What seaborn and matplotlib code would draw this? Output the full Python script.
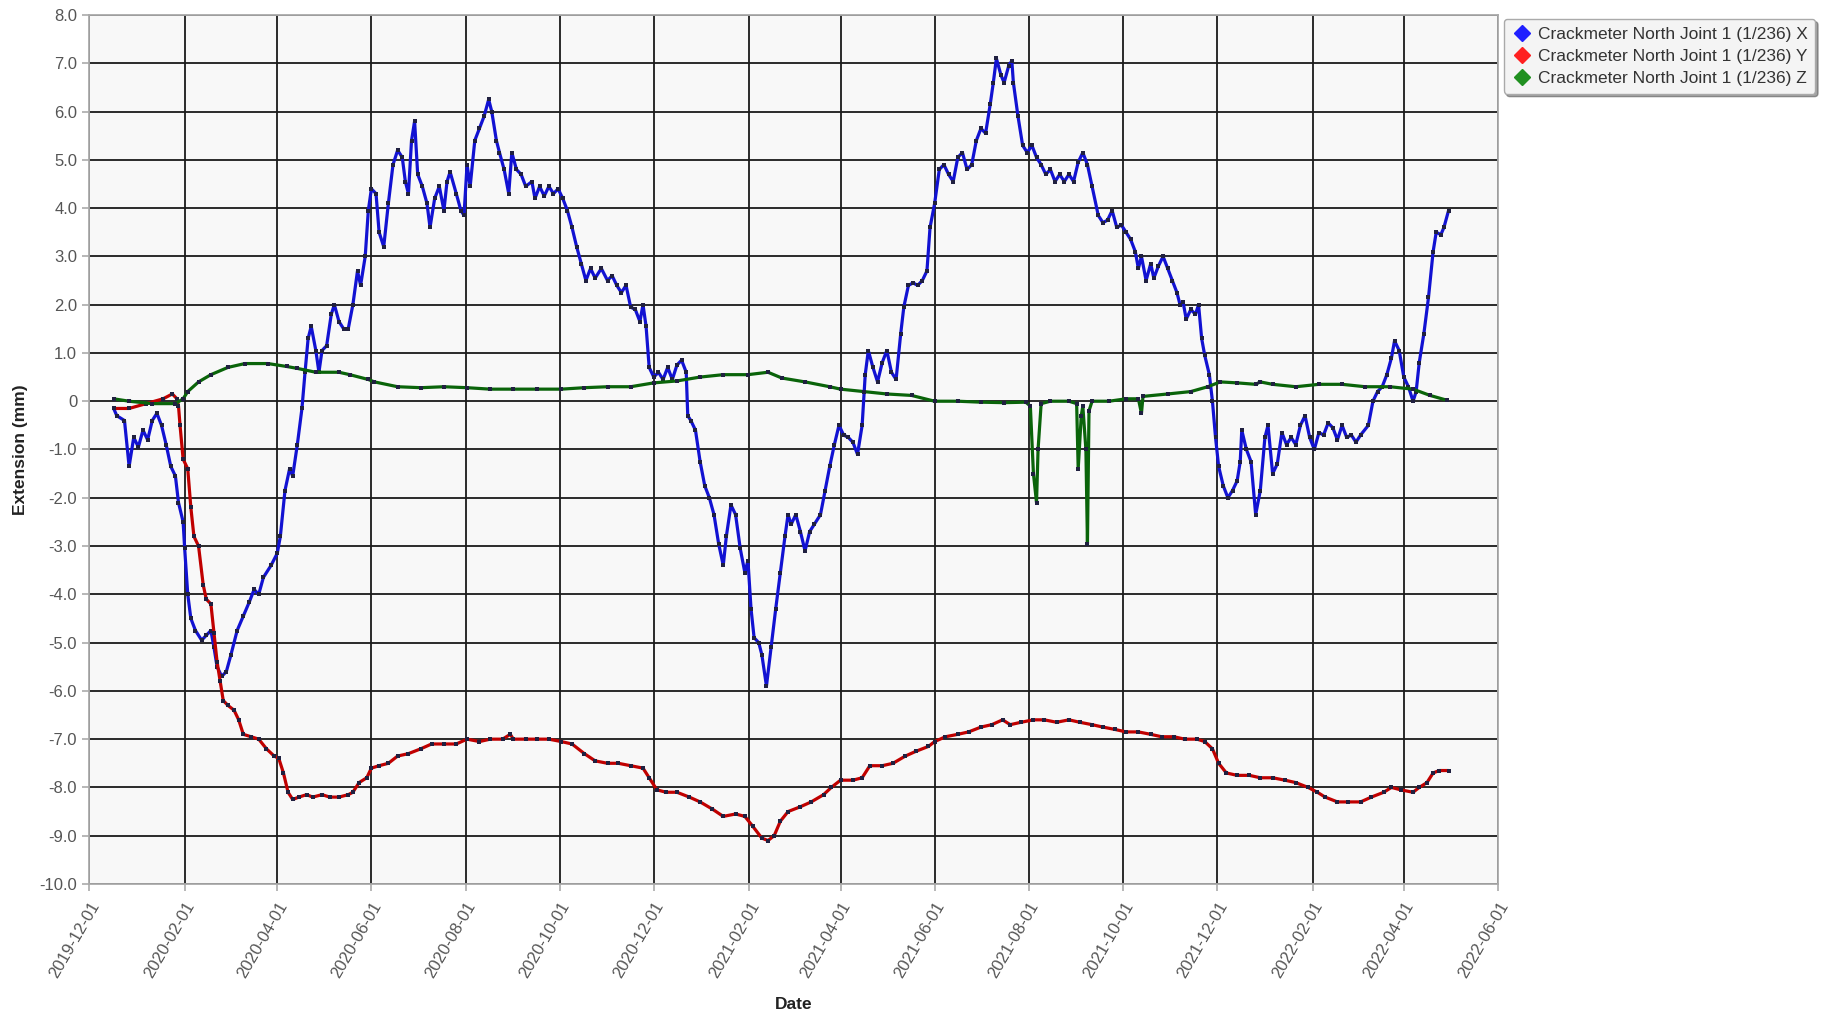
"""Crackmeter North Joint 1 extension over time"""

import matplotlib
matplotlib.use("Agg")
from matplotlib import pyplot as plt
from matplotlib.lines import Line2D
import matplotlib.dates as mdates
import pandas as pd
import seaborn as sns

START = "2019-12-01"  # day offsets below are counted from this date

# X series (blue): days since start, extension in mm
x_days = [16, 18, 23, 26, 29, 32, 35, 38, 41, 44, 47, 50, 53, 56, 58, 61, 62, 64, 66, 69,
          73, 76, 79, 81, 83, 86, 89, 92, 96, 100, 104, 107, 110, 113, 118, 122, 124, 127, 130, 132,
          135, 138, 140, 142, 144, 147, 149, 151, 154, 157, 159, 162, 165, 168, 171, 174, 176, 179, 181, 183,
          186, 188, 191, 194, 197, 200, 203, 205, 207, 209, 211, 213, 216, 219, 221, 224, 227, 230, 232, 234,
          238, 241, 243, 245, 247, 250, 253, 256, 259, 261, 264, 266, 269, 272, 274, 277, 280, 283, 287, 289,
          292, 295, 298, 301, 304, 307, 310, 313, 316, 319, 322, 325, 328, 332, 336, 339, 342, 345, 348, 351,
          354, 357, 359, 361, 363, 366, 369, 372, 375, 378, 381, 384, 387, 388, 390, 393, 396, 399, 402, 405,
          408, 411, 413, 416, 419, 422, 425, 427, 429, 431, 434, 436, 439, 442, 445, 448, 451, 453, 455, 458,
          461, 464, 467, 470, 474, 477, 480, 483, 486, 489, 492, 495, 498, 501, 503, 505, 508, 511, 514, 517,
          520, 523, 526, 528, 531, 534, 537, 540, 543, 545, 548, 551, 554, 557, 560, 563, 566, 569, 572, 575,
          578, 581, 584, 586, 588, 591, 593, 596, 598, 599, 602, 605, 608, 611, 614, 617, 620, 623, 626, 629,
          632, 635, 638, 641, 644, 647, 650, 654, 657, 660, 663, 666, 669, 672, 675, 678, 680, 682, 685, 688,
          690, 693, 696, 699, 702, 705, 707, 709, 711, 714, 717, 719, 721, 723, 726, 728, 730, 732, 735, 738,
          741, 744, 746, 747, 750, 753, 756, 759, 762, 764, 767, 770, 773, 776, 779, 782, 785, 788, 791, 794,
          797, 800, 803, 806, 809, 812, 815, 818, 821, 824, 829, 832, 835, 838, 841, 844, 846, 849, 852, 855,
          858, 860, 862, 865, 868, 871, 873, 876, 878, 881]
x_vals = [-0.15, -0.3, -0.4, -1.35, -0.75, -0.95, -0.6, -0.8, -0.4, -0.25, -0.5, -0.9, -1.35, -1.55, -2.1, -2.5, -3.05, -4.0, -4.5, -4.75,
          -4.95, -4.85, -4.75, -5.1, -5.5, -5.7, -5.6, -5.25, -4.75, -4.45, -4.15, -3.9, -4.0, -3.65, -3.4, -3.15, -2.8, -1.85, -1.4, -1.55,
          -0.9, -0.15, 0.6, 1.3, 1.55, 1.05, 0.6, 1.05, 1.15, 1.8, 2.0, 1.65, 1.5, 1.5, 2.0, 2.7, 2.4, 3.0, 3.95, 4.4,
          4.3, 3.5, 3.2, 4.1, 4.9, 5.2, 5.05, 4.55, 4.3, 5.4, 5.8, 4.7, 4.45, 4.1, 3.6, 4.2, 4.45, 3.95, 4.55, 4.75,
          4.3, 3.95, 3.85, 4.9, 4.45, 5.4, 5.65, 5.9, 6.25, 6.0, 5.4, 5.15, 4.8, 4.3, 5.15, 4.8, 4.7, 4.45, 4.55, 4.2,
          4.45, 4.25, 4.45, 4.3, 4.4, 4.2, 3.95, 3.6, 3.2, 2.85, 2.5, 2.75, 2.55, 2.75, 2.5, 2.6, 2.4, 2.25, 2.4, 1.95,
          1.9, 1.65, 2.0, 1.55, 0.7, 0.5, 0.6, 0.45, 0.7, 0.45, 0.75, 0.85, 0.6, -0.3, -0.4, -0.6, -1.25, -1.75, -2.0, -2.35,
          -2.95, -3.4, -2.8, -2.15, -2.35, -3.05, -3.55, -3.3, -4.3, -4.9, -5.0, -5.25, -5.9, -5.1, -4.3, -3.55, -2.8, -2.35, -2.55, -2.35,
          -2.7, -3.1, -2.7, -2.55, -2.35, -1.85, -1.35, -0.9, -0.5, -0.7, -0.75, -0.85, -1.1, -0.5, 0.55, 1.05, 0.7, 0.4, 0.8, 1.05,
          0.6, 0.45, 1.4, 1.95, 2.4, 2.45, 2.4, 2.5, 2.7, 3.6, 4.1, 4.8, 4.9, 4.7, 4.55, 5.05, 5.15, 4.8, 4.9, 5.4,
          5.65, 5.55, 6.15, 6.6, 7.1, 6.75, 6.6, 6.95, 7.05, 6.6, 5.9, 5.3, 5.15, 5.3, 5.05, 4.9, 4.7, 4.8, 4.55, 4.7,
          4.55, 4.7, 4.55, 4.95, 5.15, 4.9, 4.45, 3.85, 3.7, 3.75, 3.95, 3.6, 3.65, 3.5, 3.35, 3.1, 2.75, 3.0, 2.5, 2.85,
          2.55, 2.8, 3.0, 2.75, 2.5, 2.25, 2.0, 2.05, 1.7, 1.9, 1.8, 2.0, 1.3, 0.95, 0.55, 0.0, -0.75, -1.35, -1.75, -2.0,
          -1.85, -1.65, -1.25, -0.6, -1.0, -1.25, -2.35, -1.85, -0.75, -0.5, -1.5, -1.3, -0.65, -0.9, -0.75, -0.9, -0.5, -0.3, -0.75, -1.0,
          -0.65, -0.7, -0.45, -0.55, -0.8, -0.5, -0.75, -0.7, -0.85, -0.7, -0.5, 0.0, 0.2, 0.3, 0.55, 0.9, 1.25, 1.05, 0.5, 0.3,
          0.0, 0.2, 0.8, 1.4, 2.15, 3.1, 3.5, 3.45, 3.6, 3.95]

# Y series (red)
y_days = [16, 26, 37, 48, 54, 57, 58, 59, 61, 64, 66, 68, 71, 74, 76, 79, 81, 83, 85, 87,
          90, 94, 97, 100, 105, 110, 115, 120, 123, 126, 129, 132, 136, 141, 145, 151, 156, 162, 168, 171,
          175, 180, 183, 188, 194, 200, 207, 215, 222, 230, 238, 245, 253, 260, 268, 273, 275, 283, 290, 298,
          306, 313, 321, 328, 336, 343, 351, 359, 363, 368, 374, 381, 389, 396, 404, 411, 419, 425, 430, 436,
          440, 444, 448, 453, 461, 468, 476, 481, 487, 495, 501, 506, 514, 521, 529, 536, 544, 548, 555, 563,
          570, 578, 585, 592, 597, 604, 612, 619, 627, 635, 642, 650, 657, 665, 672, 680, 688, 695, 703, 710,
          718, 723, 728, 732, 737, 744, 752, 759, 767, 775, 782, 790, 796, 801, 809, 816, 824, 831, 839, 844,
          850, 858, 862, 867, 871, 875, 881]
y_vals = [-0.15, -0.15, -0.05, 0.05, 0.15, 0.05, -0.1, -0.5, -1.2, -1.4, -2.2, -2.8, -3.0, -3.8, -4.1, -4.2, -4.8, -5.4, -5.8, -6.2,
          -6.3, -6.4, -6.6, -6.9, -6.95, -7.0, -7.2, -7.35, -7.4, -7.7, -8.1, -8.25, -8.2, -8.15, -8.2, -8.15, -8.2, -8.2, -8.15, -8.1,
          -7.9, -7.8, -7.6, -7.55, -7.5, -7.35, -7.3, -7.2, -7.1, -7.1, -7.1, -7.0, -7.05, -7.0, -7.0, -6.9, -7.0, -7.0, -7.0, -7.0,
          -7.05, -7.1, -7.3, -7.45, -7.5, -7.5, -7.55, -7.6, -7.8, -8.05, -8.1, -8.1, -8.2, -8.3, -8.45, -8.6, -8.55, -8.6, -8.8, -9.05,
          -9.1, -9.0, -8.7, -8.5, -8.4, -8.3, -8.15, -8.0, -7.85, -7.85, -7.8, -7.55, -7.55, -7.5, -7.35, -7.25, -7.15, -7.05, -6.95, -6.9,
          -6.85, -6.75, -6.7, -6.6, -6.7, -6.65, -6.6, -6.6, -6.65, -6.6, -6.65, -6.7, -6.75, -6.8, -6.85, -6.85, -6.9, -6.95, -6.95, -7.0,
          -7.0, -7.05, -7.2, -7.5, -7.7, -7.75, -7.75, -7.8, -7.8, -7.85, -7.9, -8.0, -8.1, -8.2, -8.3, -8.3, -8.3, -8.2, -8.1, -8.0,
          -8.05, -8.1, -8.0, -7.9, -7.7, -7.65, -7.65]

# Z series (green)
z_days = [16, 26, 41, 56, 61, 64, 71, 79, 90, 101, 116, 128, 135, 147, 162, 169, 181, 185, 200, 215,
          230, 245, 260, 275, 290, 306, 321, 336, 351, 366, 381, 396, 411, 427, 440, 449, 464, 480, 487, 502,
          517, 533, 548, 563, 578, 593, 607, 610, 612, 614, 615, 617, 623, 635, 640, 641, 643, 644, 646, 647,
          648, 650, 661, 672, 680, 682, 683, 699, 714, 725, 733, 744, 756, 759, 767, 782, 797, 812, 827, 843,
          858, 869, 880]
z_vals = [0.05, 0.0, -0.05, -0.05, 0.05, 0.2, 0.4, 0.55, 0.7, 0.78, 0.78, 0.72, 0.68, 0.6, 0.6, 0.55, 0.45, 0.4, 0.3, 0.28,
          0.3, 0.28, 0.25, 0.25, 0.25, 0.25, 0.28, 0.3, 0.3, 0.38, 0.42, 0.5, 0.55, 0.55, 0.6, 0.48, 0.4, 0.3, 0.25, 0.2,
          0.15, 0.12, 0.0, 0.0, -0.02, -0.03, -0.02, -0.1, -1.5, -2.1, -1.0, -0.05, 0.0, 0.0, -0.05, -1.4, -0.3, -0.1, -1.0, -2.95,
          -0.2, 0.0, 0.0, 0.05, 0.05, -0.25, 0.1, 0.15, 0.2, 0.3, 0.4, 0.38, 0.35, 0.4, 0.35, 0.3, 0.35, 0.35, 0.3, 0.3,
          0.25, 0.12, 0.02]

labels = ["Crackmeter North Joint 1 (1/236) X",
          "Crackmeter North Joint 1 (1/236) Y",
          "Crackmeter North Joint 1 (1/236) Z"]
line_colors = ["#1212d2", "#c00000", "#0a640a"]
legend_colors = ["#2020ff", "#ff2020", "#209020"]


def to_df(days, vals):
    return pd.DataFrame({
        "date": pd.Timestamp(START) + pd.to_timedelta(days, unit="D"),
        "value": vals,
    })


def main():
    sns.set_theme(style="white")
    plt.rcParams["font.family"] = ["Liberation Sans", "DejaVu Sans"]

    fig = plt.figure(figsize=(18.31, 10.21), dpi=100)
    ax = fig.add_axes([0.0486, 0.1342, 0.7695, 0.8511])
    ax.set_facecolor("#f8f8f8")

    series = [(x_days, x_vals), (y_days, y_vals), (z_days, z_vals)]
    for (days, vals), col in zip(series, line_colors):
        sns.lineplot(data=to_df(days, vals), x="date", y="value", ax=ax,
                     color=col, linewidth=2.3, marker="s", markersize=2.4,
                     markeredgewidth=0, markerfacecolor="#202040", zorder=3)

    ax.set_xlim(pd.Timestamp("2019-12-01"), pd.Timestamp("2022-06-01"))
    ax.set_ylim(-10, 8)
    ax.xaxis.set_major_locator(mdates.MonthLocator(bymonth=[2, 4, 6, 8, 10, 12], bymonthday=1))
    ax.xaxis.set_major_formatter(mdates.DateFormatter("%Y-%m-%d"))
    ax.set_yticks(range(-10, 9))
    ax.yaxis.set_major_formatter(lambda v, p: "0" if v == 0 else f"{v:.1f}")

    ax.grid(True, color="#1a1a1a", linewidth=1.3, zorder=0)
    ax.set_axisbelow(True)
    for s in ax.spines.values():
        s.set_color("#aaaaaa")
        s.set_linewidth(1.3)

    ax.tick_params(axis="both", colors="#aaaaaa", length=5, width=1.2,
                   labelcolor="#555555", labelsize=12, left=True, bottom=True)
    ax.tick_params(axis="x", pad=6)
    plt.setp(ax.get_xticklabels(), rotation=60, ha="right", rotation_mode="anchor")

    ax.set_xlabel("Date", fontsize=12.5, fontweight="bold", color="#222222", labelpad=12)
    ax.set_ylabel("Extension (mm)", fontsize=12.5, fontweight="bold", color="#222222", labelpad=8)

    handles = [Line2D([], [], linestyle="", marker="D", markersize=8.5, color=c) for c in legend_colors]
    leg = fig.legend(handles, labels, loc="upper left", bbox_to_anchor=(0.8165, 0.99),
                     frameon=True, fancybox=True, shadow=True, fontsize=12.5,
                     handletextpad=0.3, borderpad=0.45, labelspacing=0.4, handlelength=1.2)
    leg.get_frame().set_facecolor("#f4f4f4")
    leg.get_frame().set_edgecolor("#aaaaaa")
    for t in leg.get_texts():
        t.set_color("#333333")

    fig.savefig("out.png", dpi=100)


if __name__ == "__main__":
    main()
